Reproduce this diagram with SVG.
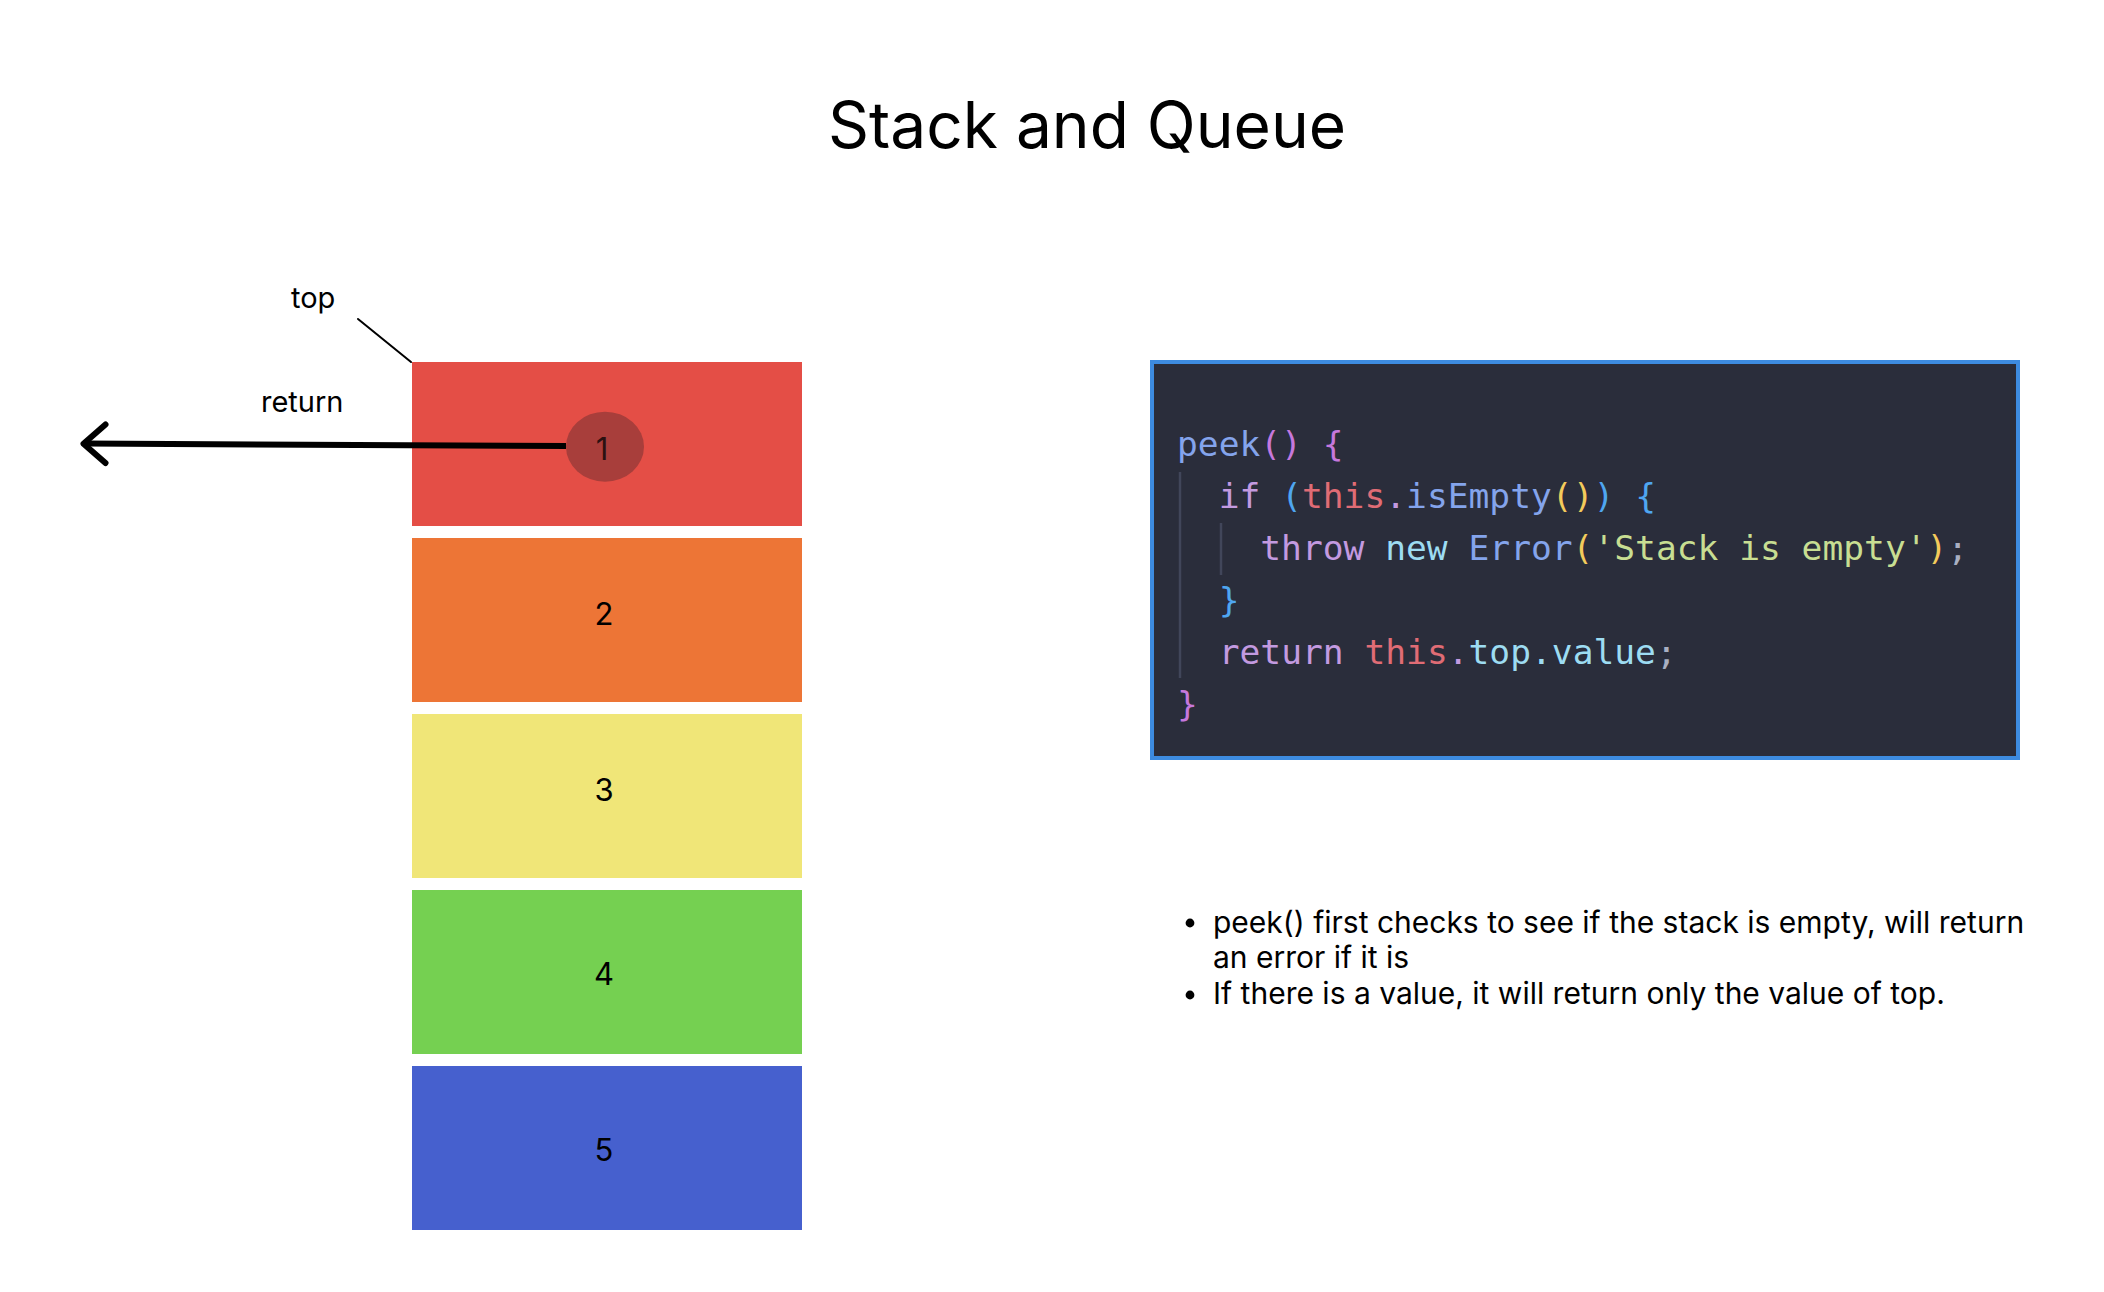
<svg xmlns="http://www.w3.org/2000/svg" width="2104" height="1292" viewBox="0 0 2104 1292">
  <style>
    .sans { font-family: Inter, "Liberation Sans", sans-serif; fill: #000; }
    .title { font-size: 64px; }
    .label { font-size: 29px; }
    .num { font-size: 31px; text-anchor: middle; }
    .note { font-size: 30px; }
    .code { font-family: "DejaVu Sans Mono", "Liberation Mono", monospace; font-size: 34.6px; }
    .kw { fill: #C39AE0; }
    .fn { fill: #84A4EC; }
    .pp { fill: #C678DD; }
    .pb { fill: #4FA6F0; }
    .py { fill: #F3CB5B; }
    .th { fill: #E06C75; }
    .cy { fill: #9DDCF2; }
    .st { fill: #C8DE92; }
    .gr { fill: #A9AFC2; }
    .cell { stroke: none; }
    .guide { stroke: #41465A; stroke-width: 2.5; }
  </style>

  <rect width="2104" height="1292" fill="#ffffff"/>

  <g id="title">
    <text class="sans title" x="1087" y="148" text-anchor="middle">Stack and Queue</text>
  </g>

  <g id="stack">
    <g id="node-1">
      <rect class="cell" x="412" y="362" width="390" height="164" fill="#E44E46"/>
    </g>
    <g id="node-2">
      <rect class="cell" x="412" y="538" width="390" height="164" fill="#ED7536"/>
      <text class="sans num" x="604" y="624.5">2</text>
    </g>
    <g id="node-3">
      <rect class="cell" x="412" y="714" width="390" height="164" fill="#F0E678"/>
      <text class="sans num" x="604" y="800.5">3</text>
    </g>
    <g id="node-4">
      <rect class="cell" x="412" y="890" width="390" height="164" fill="#75D051"/>
      <text class="sans num" x="604" y="984.5">4</text>
    </g>
    <g id="node-5">
      <rect class="cell" x="412" y="1066" width="390" height="164" fill="#4660CE"/>
      <text class="sans num" x="604" y="1160.5">5</text>
    </g>
  </g>

  <g id="labels">
    <text class="sans label" x="291" y="308">top</text>
    <text class="sans label" x="261" y="411.5">return</text>
  </g>

  <g id="connectors" fill="none" stroke="#000" stroke-linecap="round" stroke-linejoin="round">
    <line x1="358" y1="319" x2="411" y2="362" stroke-width="2"/>
    <path d="M566 446 L84 443.5" stroke-width="6" stroke-linecap="butt"/>
    <path d="M105.5 424.5 L83.5 443.7 L105.5 463" stroke-width="6"/>
  </g>

  <g id="node-top-value">
    <ellipse cx="605" cy="446.7" rx="39" ry="35" fill="#A83E3B"/>
    <text class="sans num" x="602" y="459.5" style="fill:#2B1111">1</text>
  </g>

  <g id="code-box">
    <rect x="1152" y="362" width="866" height="396" fill="#2A2D3B" stroke="#3D8BE0" stroke-width="4"/>
    <line class="guide" x1="1180" y1="472" x2="1180" y2="678"/>
    <line class="guide" x1="1221" y1="523" x2="1221" y2="575"/>
    <text class="code" xml:space="preserve" x="1177" y="455.5"><tspan class="fn">peek</tspan><tspan class="pp">()</tspan><tspan class="gr"> </tspan><tspan class="pp">{</tspan></text>
    <text class="code" xml:space="preserve" x="1218.7" y="507.5"><tspan class="kw">if</tspan> <tspan class="pb">(</tspan><tspan class="th">this</tspan><tspan class="kw">.</tspan><tspan class="fn">isEmpty</tspan><tspan class="py">()</tspan><tspan class="pb">)</tspan> <tspan class="pb">{</tspan></text>
    <text class="code" xml:space="preserve" x="1260.3" y="559.5"><tspan class="kw">throw</tspan> <tspan class="cy">new</tspan> <tspan class="fn">Error</tspan><tspan class="py">(</tspan><tspan class="st">'Stack is empty'</tspan><tspan class="py">)</tspan><tspan class="gr">;</tspan></text>
    <text class="code" xml:space="preserve" x="1218.7" y="611.5"><tspan class="pb">}</tspan></text>
    <text class="code" xml:space="preserve" x="1218.7" y="663.5"><tspan class="kw">return</tspan> <tspan class="th">this</tspan><tspan class="kw">.</tspan><tspan class="cy">top</tspan><tspan class="cy">.</tspan><tspan class="cy">value</tspan><tspan class="gr">;</tspan></text>
    <text class="code" xml:space="preserve" x="1177" y="715.5"><tspan class="pp">}</tspan></text>
  </g>

  <g id="notes">
    <circle cx="1190" cy="923" r="4.4" fill="#000"/>
    <circle cx="1190" cy="995" r="4.4" fill="#000"/>
    <text class="sans note" x="1213" y="933">peek() first checks to see if the stack is empty, will return</text>
    <text class="sans note" x="1213" y="968">an error if it is</text>
    <text class="sans note" x="1213" y="1004">If there is a value, it will return only the value of top.</text>
  </g>
</svg>
